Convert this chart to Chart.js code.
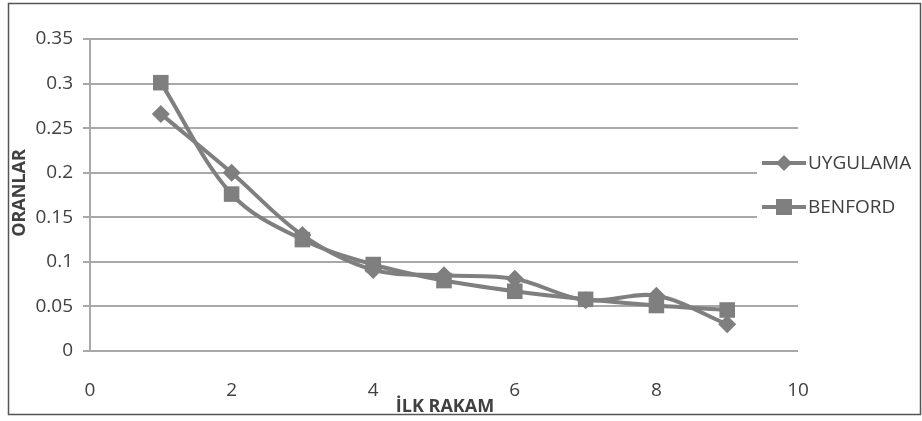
<!DOCTYPE html>
<html lang="tr">
<head>
    <meta charset="UTF-8">
    <title>İlk Rakam Oranları</title>
    <script src="https://cdn.jsdelivr.net/npm/chart.js@4.4.1/dist/chart.umd.min.js"></script>
    <style>
        * { margin: 0; padding: 0; box-sizing: border-box; }
        body { background: #fff; width: 922px; height: 421px; overflow: hidden; }
        .wrap { position: relative; width: 922px; height: 421px; }
    </style>
</head>
<body>
    <div class="wrap">
        <canvas id="chart"></canvas>
    </div>

    <script>
        // first digit 1..9
        const digits = [1, 2, 3, 4, 5, 6, 7, 8, 9];
        const uygulama = [0.266, 0.200, 0.130, 0.091, 0.085, 0.081, 0.057, 0.062, 0.030];
        const benford = [0.301, 0.176, 0.125, 0.097, 0.079, 0.067, 0.058, 0.051, 0.046];
        const seriesNames = ['UYGULAMA', 'BENFORD'];
        const xTicks = [0, 2, 4, 6, 8, 10];
        const yTicks = [0, 0.05, 0.1, 0.15, 0.2, 0.25, 0.3, 0.35];

        const lineGray = '#7f7f7f';
        const gridGray = '#a9a9a9';
        const textColor = '#404040';
        const fontFamily = "'Open Sans', 'DejaVu Sans', sans-serif";

        const toPoints = vals => digits.map((d, i) => ({ x: d, y: vals[i] }));

        // frame, axis titles and the legend on top of the gridlines
        const decor = {
            id: 'decor',
            afterDraw(chart) {
                const ctx = chart.ctx;
                ctx.save();

                // outer frame
                ctx.strokeStyle = '#555';
                ctx.lineWidth = 1.5;
                ctx.strokeRect(8.5, 3.5, 912, 411);

                // axis titles
                ctx.fillStyle = textColor;
                ctx.font = 'bold 18px ' + fontFamily;
                ctx.textAlign = 'center';
                ctx.textBaseline = 'middle';
                ctx.fillText('İLK RAKAM', 445, 407);

                ctx.save();
                ctx.translate(20, 193);
                ctx.rotate(-Math.PI / 2);
                ctx.fillText('ORANLAR', 0, 0);
                ctx.restore();

                // legend
                ctx.fillStyle = '#fff';
                ctx.fillRect(757, 150, 160, 78);
                const rows = [163, 207];
                rows.forEach((y, i) => {
                    ctx.strokeStyle = lineGray;
                    ctx.lineWidth = 4;
                    ctx.beginPath();
                    ctx.moveTo(762, y);
                    ctx.lineTo(806, y);
                    ctx.stroke();
                    ctx.fillStyle = lineGray;
                    ctx.beginPath();
                    if (i === 0) {
                        ctx.moveTo(784, y - 8);
                        ctx.lineTo(792, y);
                        ctx.lineTo(784, y + 8);
                        ctx.lineTo(776, y);
                        ctx.closePath();
                    } else {
                        ctx.rect(776, y - 8, 16, 16);
                    }
                    ctx.fill();
                    ctx.fillStyle = textColor;
                    ctx.font = '19px ' + fontFamily;
                    ctx.textAlign = 'left';
                    ctx.fillText(seriesNames[i], 808, y + 1);
                });
                ctx.restore();
            }
        };

        new Chart(document.getElementById('chart'), {
            type: 'scatter',
            data: {
                datasets: [{
                    label: seriesNames[0],
                    data: toPoints(uygulama),
                    showLine: true,
                    borderColor: lineGray,
                    backgroundColor: lineGray,
                    borderWidth: 4,
                    tension: 0.35,
                    pointStyle: 'rectRot',
                    pointRadius: 9,
                    pointHoverRadius: 9,
                    pointBorderWidth: 0
                }, {
                    label: seriesNames[1],
                    data: toPoints(benford),
                    showLine: true,
                    borderColor: lineGray,
                    backgroundColor: lineGray,
                    borderWidth: 4,
                    tension: 0.35,
                    pointStyle: 'rect',
                    pointRadius: 11,
                    pointHoverRadius: 11,
                    pointBorderWidth: 0
                }]
            },
            options: {
                responsive: true,
                maintainAspectRatio: false,
                animation: false,
                layout: { padding: { top: 39, right: 124, left: 0, bottom: 0 } },
                plugins: {
                    legend: { display: false },
                    tooltip: { enabled: false }
                },
                scales: {
                    x: {
                        type: 'linear',
                        min: 0,
                        max: 10,
                        afterFit: s => { s.height = 70; },
                        afterBuildTicks: s => { s.ticks = xTicks.map(v => ({ value: v })); },
                        grid: { display: false },
                        border: { display: false },
                        ticks: {
                            padding: 20,
                            color: textColor,
                            font: { family: fontFamily, size: 19 }
                        }
                    },
                    y: {
                        min: 0,
                        max: 0.35,
                        afterFit: s => { s.width = 90; },
                        afterBuildTicks: s => { s.ticks = yTicks.map(v => ({ value: v })); },
                        grid: {
                            color: gridGray,
                            lineWidth: 2,
                            tickLength: 7
                        },
                        border: { display: true, color: gridGray, width: 2 },
                        ticks: {
                            padding: 10,
                            color: textColor,
                            font: { family: fontFamily, size: 19 },
                            callback: v => String(Number(v.toFixed(2)))
                        }
                    }
                }
            },
            plugins: [decor]
        });
    </script>
</body>
</html>
